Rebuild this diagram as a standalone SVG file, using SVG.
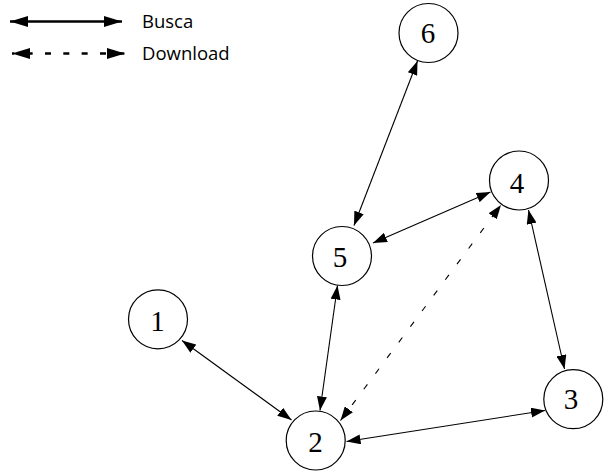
<svg xmlns="http://www.w3.org/2000/svg" width="610" height="475" viewBox="0 0 610 475">
  <style>
    .node circle { fill: #ffffff; stroke: #000000; stroke-width: 1.2; }
    .node text { font-family: "Liberation Serif", "Times New Roman", serif; font-size: 29px; fill: #000000; text-anchor: middle; }
    .edge { fill: none; stroke: #000000; stroke-width: 1.1; marker-start: url(#arr); marker-end: url(#arr); }
    .dashed { stroke-dasharray: 6 13.5; }
    .legend-line { fill: none; stroke: #000000; stroke-width: 2.6; marker-start: url(#arrBig); marker-end: url(#arrBig); }
    .legend-dashed { stroke-dasharray: 6 12.33; stroke-dashoffset: 3.67; }
    .legend-text { font-family: "Open Sans", "Liberation Sans", sans-serif; font-size: 18.5px; fill: #000000; }
  </style>
  <defs>
    <marker id="arr" markerUnits="userSpaceOnUse" viewBox="0 0 14 10" markerWidth="14" markerHeight="10" refX="14" refY="5" orient="auto-start-reverse">
      <path d="M0,0 L14,5 L0,10 z" fill="#000000"/>
    </marker>
    <marker id="arrBig" markerUnits="userSpaceOnUse" viewBox="0 0 18 11" markerWidth="18" markerHeight="11" refX="18" refY="5.5" orient="auto-start-reverse">
      <path d="M0,0 L18,5.5 L0,11 z" fill="#000000"/>
    </marker>
  </defs>

  <g id="legend">
    <line class="legend-line" x1="10" y1="21.5" x2="122" y2="21.5"/>
    <text class="legend-text" x="142" y="28">Busca</text>
    <line class="legend-line legend-dashed" x1="12" y1="53.5" x2="125" y2="53.5"/>
    <text class="legend-text" x="142" y="60">Download</text>
  </g>

  <g id="connectors">
    <line class="edge" x1="417.5" y1="61" x2="354" y2="225.5"/>
    <line class="edge" x1="373" y1="243" x2="490.5" y2="192"/>
    <line class="edge" x1="528.5" y1="210" x2="564.5" y2="369"/>
    <line class="edge dashed" x1="340.5" y1="420.5" x2="501" y2="205"/>
    <line class="edge" x1="337.5" y1="285.5" x2="320" y2="410.5"/>
    <line class="edge" x1="182" y1="340.5" x2="291.5" y2="420"/>
    <line class="edge" x1="346.5" y1="441.5" x2="545" y2="410.5"/>
  </g>

  <g id="node1" class="node">
    <circle cx="158" cy="319.3" r="29.5"/>
    <text x="157.5" y="331">1</text>
  </g>
  <g id="node2" class="node">
    <circle cx="315.7" cy="440.5" r="29.5"/>
    <text x="315.5" y="452">2</text>
  </g>
  <g id="node3" class="node">
    <circle cx="573.3" cy="399.2" r="29.5"/>
    <text x="571" y="408.5">3</text>
  </g>
  <g id="node4" class="node">
    <circle cx="519" cy="180.5" r="29.5"/>
    <text x="517" y="192.5">4</text>
  </g>
  <g id="node5" class="node">
    <circle cx="342" cy="256" r="29.5"/>
    <text x="340" y="266.5">5</text>
  </g>
  <g id="node6" class="node">
    <circle cx="428.5" cy="33" r="29.5"/>
    <text x="428" y="42.5">6</text>
  </g>
</svg>
